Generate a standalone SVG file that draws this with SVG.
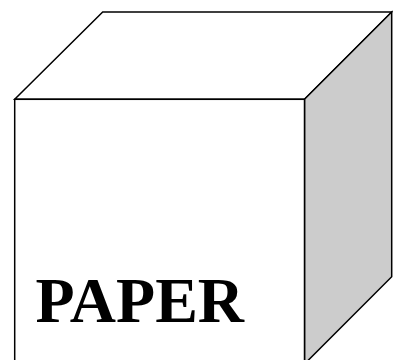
<svg xmlns="http://www.w3.org/2000/svg" width="393" height="360" viewBox="0 0 393 360">
<style>
.edge{stroke:#000;stroke-width:1.5;stroke-linejoin:miter}
.label{font-family:"Liberation Serif","Times New Roman",serif;font-weight:bold;font-size:64px;fill:#000}
</style>
<rect width="393" height="360" fill="#fff"/>
<g id="cube">
<polygon id="top" class="edge" fill="#fff" points="14.7,99.3 102.7,12 391.7,12 304.5,99.3"/>
<polygon id="side" class="edge" fill="#cccccc" points="304.5,99.3 391.7,12 391.7,276.7 304.5,364"/>
<rect id="front" class="edge" fill="#fff" x="14.7" y="99.3" width="289.8" height="265"/>
<text class="label" x="35.5" y="321.5">PAPER</text>
</g>
</svg>
